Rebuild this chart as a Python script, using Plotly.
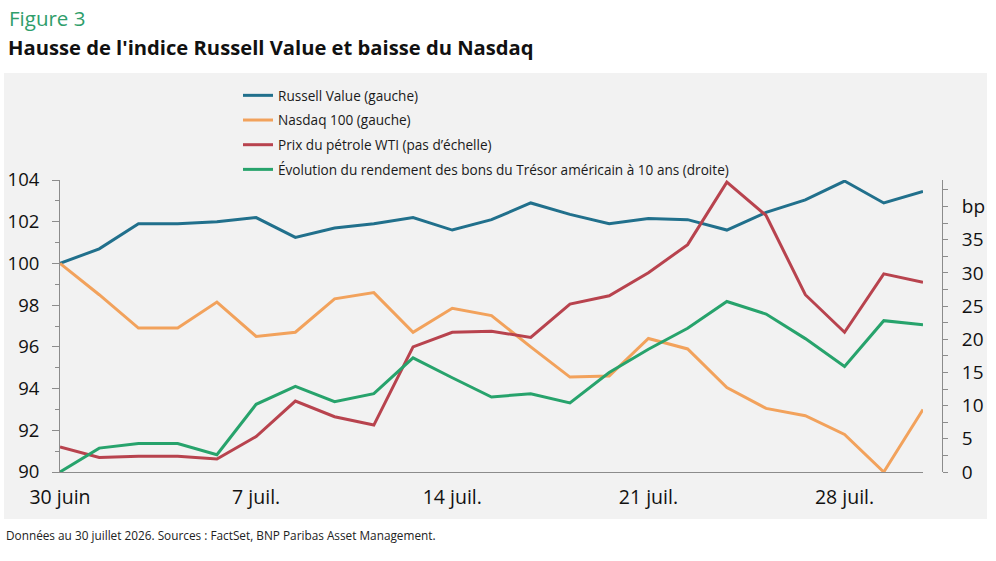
import plotly.graph_objects as go

# ---- data ----
day_labels = ["30 juin", "1 juil.", "2 juil.", "3 juil.", "6 juil.", "7 juil.", "8 juil.", "9 juil.",
              "10 juil.", "13 juil.", "14 juil.", "15 juil.", "16 juil.", "17 juil.", "20 juil.",
              "21 juil.", "22 juil.", "23 juil.", "24 juil.", "27 juil.", "28 juil.", "29 juil.", "30 juil."]
label_every = 5

russell = [100.0, 100.7, 101.9, 101.9, 102.0, 102.2, 101.25, 101.7, 101.9, 102.2, 101.6, 102.1,
           102.9, 102.35, 101.9, 102.15, 102.1, 101.6, 102.45, 103.05, 103.95, 102.9, 103.45]
nasdaq = [100.0, 98.5, 96.9, 96.9, 98.15, 96.5, 96.7, 98.3, 98.6, 96.7, 97.85, 97.5,
          96.0, 94.55, 94.6, 96.4, 95.9, 94.05, 93.05, 92.7, 91.8, 90.0, 93.0]
wti = [91.2, 90.7, 90.75, 90.75, 90.62, 91.7, 93.4, 92.65, 92.25, 96.0, 96.7, 96.75,
       96.45, 98.05, 98.45, 99.55, 100.9, 103.9, 102.3, 98.5, 96.7, 99.5, 99.1]
ust10_bp = [0.0, 3.6, 4.3, 4.3, 2.6, 10.2, 12.9, 10.6, 11.8, 17.2, 14.2, 11.3,
            11.8, 10.4, 15.0, 18.5, 21.65, 25.7, 23.8, 20.1, 15.9, 22.8, 22.2]

left_range = [90, 104]
right_range = [0, 44]
right_tickvals = [0, 5, 10, 15, 20, 25, 30, 35, 40]
right_ticktext = ["0", "5", "10", "15", "20", "25", "30", "35", "bp"]

names = ["Russell Value (gauche)", "Nasdaq 100 (gauche)", "Prix du pétrole WTI (pas d’échelle)",
         "Évolution du rendement des bons du Trésor américain à 10 ans (droite)"]
colors = ["#21708C", "#F2A25C", "#B8434E", "#27A36C"]

x_idx = list(range(len(day_labels)))
tick_idx = x_idx[::label_every]
tick_text = [day_labels[i] for i in tick_idx]

FONT = "Open Sans"
AXC = "#8C8C8C"

fig = go.Figure()
series = [russell, nasdaq, wti, ust10_bp]
axes = ["y", "y", "y", "y2"]
for i, (s, n, c, ax) in enumerate(zip(series, names, colors, axes)):
    fig.add_trace(go.Scatter(x=x_idx, y=s, name=n, mode="lines", yaxis=ax,
                             line=dict(color=c, width=3), legendgroup=f"g{i}"))

W, H = 996, 561
ml, mt = 60, 180
mb = H - 472
mr = W - 942
pw = W - ml - mr
ph = H - mt - mb
xdom_end = (923 - ml) / pw

def px_x(x):
    return (x - ml) / pw

def px_y(y):
    return (H - mb - y) / ph

fig.update_layout(
    width=W, height=H,
    margin=dict(l=ml, r=mr, t=mt, b=mb, autoexpand=False),
    paper_bgcolor="white", plot_bgcolor="rgba(0,0,0,0)",
    font=dict(family=FONT, color="#1a1a1a"),
    showlegend=True,
    legend=dict(x=px_x(238), y=px_y(80), xanchor="left", yanchor="top",
                bgcolor="rgba(0,0,0,0)", font=dict(size=13.6, family=FONT, color="#1a1a1a"),
                tracegroupgap=4, itemwidth=30),
    xaxis=dict(domain=[0, xdom_end], range=[0, len(x_idx) - 1], tickmode="array",
               tickvals=tick_idx, ticktext=tick_text, showline=True, linecolor=AXC, linewidth=1,
               ticks="", showgrid=False, zeroline=False, tickfont=dict(size=19.5, color="#111"),
               ticklabelstandoff=8, automargin=False),
    xaxis2=dict(domain=[0, xdom_end], range=[0, len(x_idx) - 1], overlaying="x", anchor="free",
                position=(100 - left_range[0]) / (left_range[1] - left_range[0]),
                side="bottom", showline=True, linecolor=AXC, linewidth=1, ticks="outside",
                tickmode="linear", tick0=0, dtick=0.5, ticklen=5, tickcolor=AXC,
                showticklabels=False, showgrid=False, zeroline=False, automargin=False),
    yaxis=dict(range=left_range, tickmode="linear", tick0=90, dtick=2, showline=True,
               linecolor=AXC, ticks="outside", ticklen=7, tickcolor=AXC, showgrid=False,
               zeroline=False, tickfont=dict(size=18.5, color="#111"), ticklabelstandoff=9,
               automargin=False,
               minor=dict(dtick=1, ticks="outside", ticklen=4, tickcolor=AXC)),
    yaxis2=dict(range=right_range, overlaying="y", anchor="free", position=1.0, side="right",
                tickmode="array", tickvals=right_tickvals, ticktext=right_ticktext,
                showline=True, linecolor=AXC, ticks="outside", ticklen=5, tickcolor=AXC,
                showgrid=False, zeroline=False, tickfont=dict(size=19, color="#111"),
                ticklabelstandoff=10, automargin=False,
                minor=dict(tick0=0, dtick=2.5, ticks="outside", ticklen=5, tickcolor=AXC)),
    shapes=[dict(type="rect", xref="paper", yref="paper", x0=px_x(4), x1=px_x(987),
                 y0=px_y(519), y1=px_y(73), fillcolor="#F2F2F2", line=dict(width=0), layer="below")],
    annotations=[
        dict(text="Figure 3", xref="paper", yref="paper", x=px_x(7), y=px_y(18), xanchor="left",
             yanchor="middle", showarrow=False, font=dict(size=20.5, color="#2F9E6B", family=FONT)),
        dict(text="<b>Hausse de l'indice Russell Value et baisse du Nasdaq</b>", xref="paper",
             yref="paper", x=px_x(6), y=px_y(47), xanchor="left", yanchor="middle", showarrow=False,
             font=dict(size=20.2, color="#111", family=FONT)),
        dict(text="Données au 30 juillet 2026. Sources : FactSet, BNP Paribas Asset Management.",
             xref="paper", yref="paper", x=px_x(4), y=px_y(535), xanchor="left", yanchor="middle",
             showarrow=False, font=dict(size=11.8, color="#222", family=FONT)),
    ],
)

fig.write_html("out.html", config={"displayModeBar": False},
               post_script="document.body.style.margin='0';")
